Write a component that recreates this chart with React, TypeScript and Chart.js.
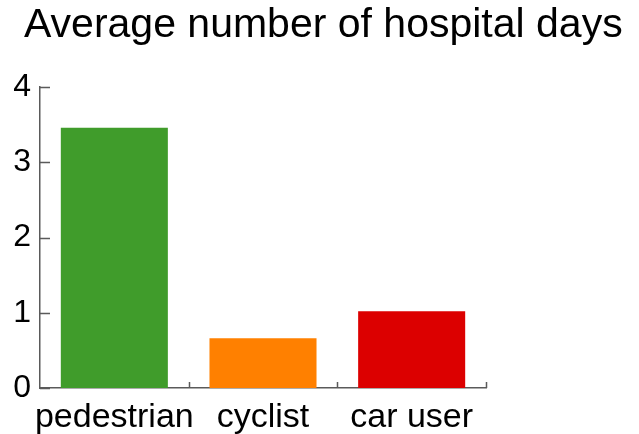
import React, { useEffect, useRef } from "react";
import { Chart, registerables } from "chart.js";

Chart.register(...registerables);

const categories = ["pedestrian", "cyclist", "car user"];
const values = [3.46, 0.66, 1.02];
const barColors = ["#409c2b", "#ff8000", "#dc0000"];
const yTickValues = [0, 1, 2, 3, 4];
const titleText = "Average number of hospital days";

const FONT = "'Liberation Sans', Arial, Helvetica, sans-serif";
const AXIS_COLOR = "#5a5a5a";

const innerTicksPlugin = {
  id: "innerTicks",
  afterDraw(chart: any) {
    const ctx = chart.ctx;
    const x = chart.scales.x;
    const y = chart.scales.y;
    const area = chart.chartArea;
    ctx.save();
    ctx.strokeStyle = AXIS_COLOR;
    ctx.lineWidth = 1.5;
    ctx.beginPath();
    for (const v of yTickValues) {
      const py = Math.round(y.getPixelForValue(v)) + 0.5;
      ctx.moveTo(area.left, py);
      ctx.lineTo(area.left + 10, py);
    }
    const n = categories.length;
    for (let i = 0; i < n; i++) {
      const c = x.getPixelForValue(i);
      const half = (area.right - area.left) / n / 2;
      const px = Math.round(c + half) + 0.5;
      ctx.moveTo(px, area.bottom);
      ctx.lineTo(px, area.bottom - 6);
    }
    ctx.stroke();
    ctx.restore();
  },
};

const titlePlugin = {
  id: "customTitle",
  afterDraw(chart: any) {
    const ctx = chart.ctx;
    ctx.save();
    ctx.fillStyle = "#000";
    ctx.font = `41px ${FONT}`;
    ctx.textAlign = "left";
    ctx.textBaseline = "alphabetic";
    ctx.fillText(titleText, 24, 37);
    ctx.restore();
  },
};

export default function App() {
  const canvasRef = useRef<HTMLCanvasElement | null>(null);

  useEffect(() => {
    if (!canvasRef.current) return;
    const chart = new Chart(canvasRef.current, {
      type: "bar",
      data: {
        labels: categories,
        datasets: [
          {
            data: values,
            backgroundColor: barColors,
            borderWidth: 0,
            barPercentage: 0.72,
            categoryPercentage: 1,
          },
        ],
      },
      options: {
        animation: false,
        responsive: false,
        maintainAspectRatio: false,
        layout: { padding: { left: 0, right: 153, top: 87, bottom: 0 } },
        plugins: {
          legend: { display: false },
          title: { display: false },
          tooltip: { enabled: false },
        },
        scales: {
          x: {
            offset: true,
            grid: { display: false, drawTicks: false },
            border: { display: true, color: AXIS_COLOR, width: 1.5 },
            ticks: {
              color: "#000",
              font: { family: FONT, size: 34 },
              padding: 9,
              maxRotation: 0,
              autoSkip: false,
            },
            afterFit(scale: any) {
              scale.height = 46;
            },
          },
          y: {
            min: 0,
            max: 4,
            grid: { display: false, drawTicks: false },
            border: { display: true, color: AXIS_COLOR, width: 1.5 },
            ticks: {
              stepSize: 1,
              color: "#000",
              font: { family: FONT, size: 32 },
              padding: 9,
            },
            afterFit(scale: any) {
              scale.width = 40;
            },
          },
        },
      },
      plugins: [innerTicksPlugin, titlePlugin],
    });
    return () => chart.destroy();
  }, []);

  return (
    <div style={{ position: "fixed", left: 0, top: 0, width: 639, height: 434, background: "#fff" }}>
      <canvas ref={canvasRef} width={639} height={434} style={{ width: 639, height: 434 }} />
    </div>
  );
}
